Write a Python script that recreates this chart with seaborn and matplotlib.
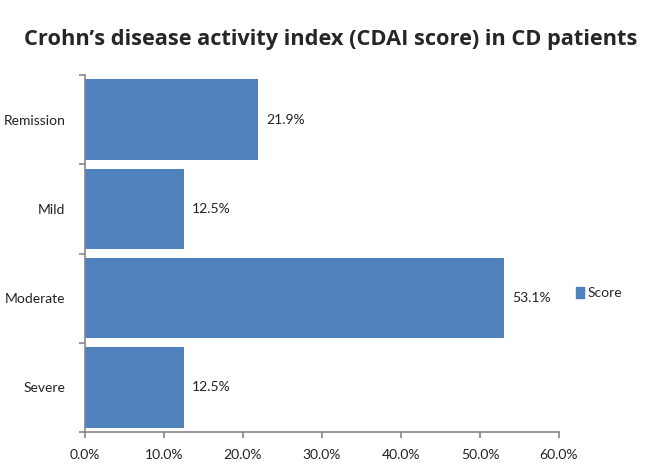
import matplotlib
matplotlib.use("Agg")
import matplotlib.pyplot as plt
import seaborn as sns
import pandas as pd
import numpy as np

categories = ["Remission", "Mild", "Moderate", "Severe"]
values = [21.9, 12.5, 53.1, 12.5]
series_name = "Score"
xticks = [0, 10, 20, 30, 40, 50, 60]
xtick_labels = ["0.0%", "10.0%", "20.0%", "30.0%", "40.0%", "50.0%", "60.0%"]
title = "Crohn\u2019s disease activity index (CDAI score) in CD patients"

sns.set_theme(style="white")
plt.rcParams['font.family'] = ['Lato', 'DejaVu Sans']

df = pd.DataFrame({"category": categories, "value": values, "series": series_name})

fig = plt.figure(figsize=(6.61, 4.70), dpi=100)
ax = fig.add_axes([85/661, 1-432/470, (559-85)/661, (432-75)/470])
bar_color = "#4F81BD"
sns.barplot(data=df, x="value", y="category", hue="series", palette=[bar_color],
            orient="h", width=0.9, dodge=False, ax=ax, legend=True,
            edgecolor="none", saturation=1)

ax.set_xlim(0, 60)
ax.set_ylim(len(categories) - 0.5, -0.5)
ax.set_xticks(xticks)
ax.set_xticklabels(xtick_labels, fontsize=10, color="#222222")
ax.set_yticks(range(len(categories)))
ax.set_yticklabels(categories, fontsize=10, color="#222222")
ax.set_yticks(np.arange(-0.5, len(categories), 1), minor=True)
ax.tick_params(axis="y", which="major", length=0, pad=14)
ax.tick_params(axis="y", which="minor", length=4, width=1.2, color="#868686", direction="out", left=True)
ax.tick_params(axis="x", which="major", length=4, width=1.2, color="#868686", direction="out", bottom=True, pad=8)
ax.set_xlabel("")
ax.set_ylabel("")
for s in ["top", "right"]:
    ax.spines[s].set_visible(False)
for s in ["left", "bottom"]:
    ax.spines[s].set_color("#868686")
    ax.spines[s].set_linewidth(1.2)

for i, v in enumerate(values):
    ax.text(v + 1.0, i, f"{v:.1f}%", va="center", ha="left", fontsize=10, color="#222222")

ax.get_legend().remove()
handles = [plt.Rectangle((0, 0), 1, 1, color=bar_color)]
fig.legend(handles, [series_name], loc="center left", bbox_to_anchor=(563/661, 1-293/470),
           frameon=False, fontsize=10, handlelength=0.6, handleheight=0.8, handletextpad=0.3)

fig.text(0.5, 1-40/470, title, ha="center", va="center", fontsize=15.7, fontweight="bold",
         family=["Open Sans", "DejaVu Sans"])

fig.savefig("out.png", dpi=100, facecolor="white")
